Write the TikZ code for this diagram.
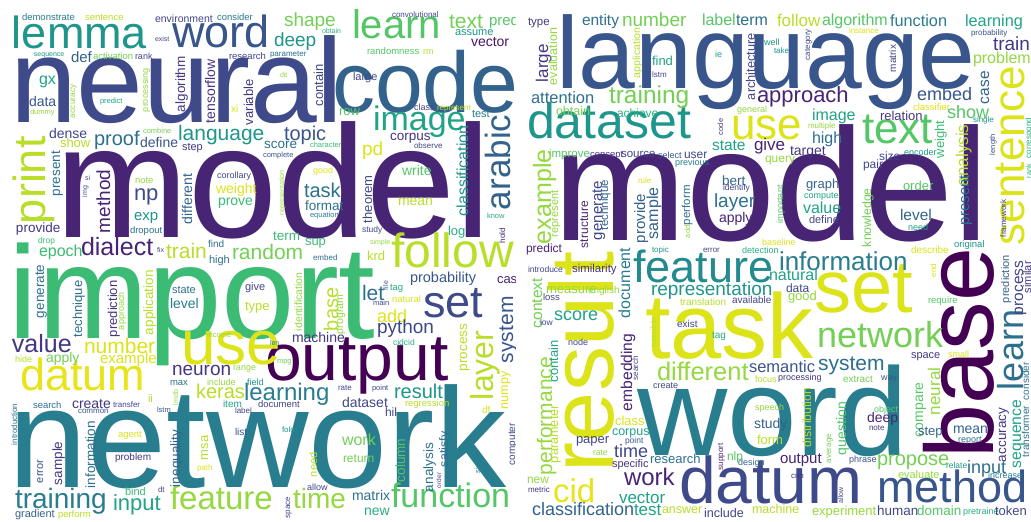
\documentclass[tikz,border=0pt]{standalone}
\usepackage{fontspec}
\setmainfont{Liberation Sans}
\definecolor{v00}{HTML}{440154}
\definecolor{v01}{HTML}{481567}
\definecolor{v02}{HTML}{482475}
\definecolor{v03}{HTML}{453781}
\definecolor{v04}{HTML}{404788}
\definecolor{nb}{HTML}{3E4A89}
\definecolor{v05}{HTML}{39568C}
\definecolor{v06}{HTML}{33638D}
\definecolor{v07}{HTML}{2D708E}
\definecolor{v08}{HTML}{287D8E}
\definecolor{v09}{HTML}{238A8D}
\definecolor{v10}{HTML}{1F968B}
\definecolor{v11}{HTML}{20A387}
\definecolor{v12}{HTML}{29AF7F}
\definecolor{v13}{HTML}{3CBB75}
\definecolor{v14}{HTML}{55C667}
\definecolor{v15}{HTML}{73D055}
\definecolor{v16}{HTML}{95D840}
\definecolor{v17}{HTML}{B8DE29}
\definecolor{v18}{HTML}{DCE319}
\definecolor{v19}{HTML}{E8E419}
\newcount\wcnt
\tikzset{wd/.style={anchor=base west, inner sep=0pt, outer sep=0pt}}
\newcommand\WH[5]{\global\advance\wcnt by 1 \node[wd, text=#4, font=\fontsize{#3}{#3}\selectfont] (w\the\wcnt) at (#1,#2) {#5};}
\newcommand\WV[5]{\global\advance\wcnt by 1 \node[wd, rotate=90, text=#4, font=\fontsize{#3}{#3}\selectfont] (w\the\wcnt) at (#1,#2) {#5};}
\begin{document}
\begin{tikzpicture}[x=1pt,y=-1pt]
\fill[white] (0,0) rectangle (1031,522);
\useasboundingbox (0,0) rectangle (1031,522);
% ---------------- LEFT CLOUD ----------------
\begin{scope}
\clip (0,0) rectangle (515,522);
\WH{55}{237}{160}{v02}{model}
\WH{10}{122}{120}{nb}{neural}
\WH{9}{338}{132}{v13}{import}
\WH{9}{487}{142}{v08}{network}
\WH{332}{112}{86}{v06}{code}
\WH{265}{380}{66}{v00}{output}
\WH{181}{364}{62}{v18}{use}
\WH{20}{390}{45}{v19}{datum}
\WH{12}{48}{45}{v10}{lemma}
\WH{172}{47}{45}{v05}{word}
\WH{391}{267}{48}{v17}{follow}
\WH{423}{317}{45}{nb}{set}
\WV{45}{224}{45}{v17}{print}
\WV{510}{210}{35}{v06}{arabic}
\WV{493}{400}{32}{v17}{layer}
\WH{391}{507}{34}{v14}{function}
\WH{170}{509}{33}{v16}{feature}
\WH{15}{508}{28}{v08}{training}
\WH{293}{508}{28}{v16}{time}
\WH{113}{510}{22}{v11}{input}
\WH{352}{38}{40}{v14}{learn}
\WH{373}{130}{34}{v11}{image}
\WH{178}{140}{21}{v10}{language}
\WH{22}{20}{9.5}{v08}{demonstrate}
\WH{85}{20}{9.5}{v17}{sentence}
\WH{155}{22}{10.5}{v04}{environment}
\WH{217}{20}{9.5}{v08}{consider}
\WH{155}{41}{7}{v04}{exist}
\WH{34}{56}{7}{v10}{sequence}
\WH{71}{62}{15}{v06}{def}
\WH{93}{59}{9.5}{v15}{activation}
\WH{135}{59}{9}{v04}{rank}
\WH{229}{59}{9.5}{v04}{research}
\WH{270}{56}{8}{v07}{parameter}
\WH{280}{77}{7}{v16}{dit}
\WH{39}{84}{16}{v11}{gx}
\WH{29}{106}{14}{v05}{data}
\WH{30}{114}{7.5}{v16}{dummy}
\WV{75}{118}{8.5}{v16}{accuracy}
\WH{100}{103}{7.5}{v11}{predict}
\WV{148}{112}{9}{v16}{processing}
\WV{185}{112}{13.5}{v03}{algorithm}
\WV{215}{123}{14}{v03}{tensorflow}
\WV{253}{125}{13}{v03}{variable}
\WH{231}{112}{10}{v18}{xi}
\WH{49}{138}{14}{v04}{dense}
\WH{60}{147}{13}{v17}{show}
\WH{94}{145}{20}{v07}{proof}
\WH{143}{133}{7.5}{v15}{combine}
\WH{140}{147}{14}{v05}{define}
\WH{182}{150}{11}{v03}{step}
\WH{392}{17}{8}{v04}{convolutional}
\WH{284}{27}{19}{v15}{shape}
\WH{449}{28}{21}{v15}{text}
\WH{489}{25}{15}{v14}{pred}
\WH{322}{33}{7}{v12}{obtain}
\WH{455}{35}{11}{v10}{assume}
\WH{274}{46}{19}{v10}{deep}
\WH{471}{46}{14}{v01}{vector}
\WH{367}{54}{9.5}{v14}{randomness}
\WH{423}{54}{9}{v17}{rm}
\WV{323}{106}{13}{v04}{contain}
\WH{353}{80}{11}{v04}{large}
\WH{339}{115}{13}{v14}{row}
\WH{414}{110}{9}{v04}{class}
\WH{437}{110}{8}{v17}{represent}
\WH{472}{117}{11}{v08}{test}
\WH{284}{140}{20}{v05}{topic}
\WH{390}{140}{13.5}{v03}{corpus}
\WH{264}{148}{13.5}{v07}{score}
\WH{310}{147}{7.5}{v13}{character}
\WH{414}{148}{8}{v04}{observe}
\WH{263}{157}{7.5}{v05}{complete}
\WH{362}{155}{19}{v18}{pd}
\WV{468}{216}{16}{v10}{classification}
\WH{313}{173}{9}{v18}{good}
\WH{402}{175}{14}{v14}{write}
\WV{60}{196}{13.5}{v07}{present}
\WH{85}{180}{7}{v04}{si}
\WV{87}{197}{7}{v05}{img}
\WV{110}{233}{19}{v02}{method}
\WH{135}{183}{9.5}{v16}{note}
\WH{134}{200}{22}{nb}{np}
\WV{192}{224}{14}{v06}{different}
\WH{217}{178}{9}{v04}{corollary}
\WH{216}{193}{14}{v18}{weight}
\WH{218}{205}{14}{v13}{prove}
\WH{134}{220}{15}{v10}{exp}
\WH{16}{232}{13.5}{v03}{provide}
\WH{130}{233}{9.5}{v07}{dropout}
\WH{38}{243}{8.5}{v13}{drop}
\WH{39}{256}{16}{v13}{epoch}
\WH{81}{255}{25}{v02}{dialect}
\WH{157}{252}{7}{v04}{fix}
\WH{166}{258}{21}{v17}{train}
\WH{208}{247}{10}{v07}{find}
\WH{209}{263}{11}{v07}{high}
\WH{232}{259}{21}{v15}{random}
\WV{44}{318}{13.5}{v07}{generate}
\WV{82}{337}{13}{v07}{technique}
\WV{117}{337}{13}{v03}{prediction}
\WV{124}{330}{9}{v16}{approach}
\WV{153}{335}{13.5}{v17}{application}
\WH{172}{293}{11}{v07}{state}
\WH{170}{308}{14}{v08}{level}
\WH{245}{290}{11}{v04}{give}
\WH{245}{310}{13}{v17}{type}
\WH{207}{337}{7.5}{v16}{income}
\WH{12}{352}{25}{v03}{value}
\WH{84}{353}{21}{v18}{number}
\WH{304}{197}{20}{v07}{task}
\WH{305}{210}{13.5}{v07}{format}
\WH{310}{217}{7.5}{v08}{equation}
\WV{284}{215}{7}{v16}{representation}
\WV{372}{223}{13}{v04}{theorem}
\WH{362}{232}{8.5}{v04}{study}
\WH{398}{205}{14}{v17}{mean}
\WH{448}{235}{13}{v12}{log}
\WH{487}{218}{7.5}{v12}{know}
\WV{505}{243}{8}{v02}{hold}
\WH{273}{240}{13.5}{v13}{term}
\WH{305}{245}{13}{v13}{sup}
\WH{370}{244}{7}{v16}{simple}
\WH{313}{260}{8}{v07}{embed}
\WH{367}{260}{13}{v17}{krd}
\WV{388}{290}{7}{v05}{file}
\WH{410}{282}{14.5}{v05}{probability}
\WH{497}{283}{13}{v02}{case}
\WH{362}{300}{21}{v07}{let}
\WH{390}{290}{9.5}{v12}{tag}
\WH{392}{302}{9.5}{v18}{natural}
\WH{373}{305}{7.5}{v04}{main}
\WH{377}{322}{18}{v18}{add}
\WH{377}{333}{19}{v04}{python}
\WH{393}{345}{8.5}{v12}{cidcid}
\WV{338}{331}{20}{v17}{base}
\WV{343}{334}{10.5}{v16}{program}
\WV{302}{331}{10.5}{v16}{identification}
\WH{292}{342}{14}{v03}{machine}
\WH{270}{345}{7}{v08}{len}
\WV{513}{363}{21}{v05}{system}
\WV{467}{371}{13.5}{v17}{process}
\WV{508}{409}{12.5}{v18}{numpy}
\WH{482}{413}{10}{v18}{df}
\WV{515}{465}{10}{v04}{computer}
\WV{480}{473}{7.5}{v08}{similar}
\WH{277}{363}{7.5}{v15}{mpg}
\WH{338}{390}{8}{v04}{rate}
\WH{372}{390}{7.5}{v04}{point}
\WH{394}{398}{20}{v10}{result}
\WH{244}{400}{24}{v08}{learning}
\WH{196}{398}{20}{v17}{keras}
\WH{342}{407}{14}{v04}{dataset}
\WH{405}{406}{9.5}{v17}{regression}
\WH{258}{407}{9.5}{v04}{document}
\WH{385}{416}{12}{v04}{hil}
\WH{282}{432}{8}{v10}{fold}
\WH{342}{445}{16}{v15}{work}
\WH{343}{462}{12}{v15}{return}
\WV{317}{477}{11}{v17}{need}
\WH{307}{490}{9}{v04}{allow}
\WV{405}{482}{13.5}{v14}{column}
\WV{433}{492}{13.5}{v07}{analysis}
\WV{448}{467}{12.5}{v07}{satisfy}
\WV{441}{488}{6.5}{v04}{order}
\WH{352}{500}{14}{v07}{matrix}
\WH{364}{515}{14}{v12}{new}
\WV{290}{518}{8}{v04}{space}
\WH{15}{517}{11}{v06}{gradient}
\WH{58}{517}{9.5}{v17}{perform}
\WH{125}{495}{11}{v13}{bind}
\WH{158}{492}{8}{v04}{dt}
\WV{43}{483}{11}{v05}{error}
\WV{62}{485}{13.5}{v03}{sample}
\WV{95}{488}{13.5}{v07}{information}
\WV{180}{487}{13.5}{v06}{inequality}
\WV{208}{460}{13}{v17}{msa}
\WH{115}{460}{10}{v03}{problem}
\WH{118}{437}{9.5}{v18}{agent}
\WH{197}{470}{8}{v18}{path}
\WH{235}{435}{10}{v05}{list}
\WH{235}{413}{8}{v04}{label}
\WH{223}{407}{10}{v11}{item}
\WH{113}{407}{8}{v04}{transfer}
\WH{157}{412}{7.5}{v05}{lstm}
\WV{178}{405}{7}{v16}{imdb}
\WH{72}{408}{14}{v03}{create}
\WH{78}{413}{8}{v05}{common}
\WH{33}{408}{9.5}{v07}{search}
\WV{17}{445}{8}{v07}{introduction}
\WH{148}{402}{11}{v17}{ii}
\WH{170}{385}{9.5}{v07}{max}
\WH{207}{385}{9}{v16}{include}
\WH{233}{370}{9}{v16}{range}
\WH{172}{375}{19}{v03}{neuron}
\WH{100}{363}{15}{v18}{example}
\WH{46}{362}{14}{v15}{apply}
\WH{15}{362}{9}{v17}{hide}
\WH{247}{385}{9}{v10}{field}
\end{scope}
% ---------------- RIGHT CLOUD ----------------
\begin{scope}
\clip (515,0) rectangle (1031,522);
\WH{556}{88}{102}{v05}{language}
\WH{553}{240}{160}{v02}{model}
\WV{613}{472}{90}{v18}{result}
\WH{645}{358}{92}{v18}{task}
\WH{637}{455}{125}{v08}{word}
\WV{993}{458}{97}{v00}{base}
\WH{814}{312}{74}{v18}{set}
\WH{679}{503}{66}{nb}{datum}
\WH{527}{138}{50}{v10}{dataset}
\WH{731}{139}{44}{v18}{use}
\WH{633}{282}{45}{v09}{feature}
\WH{862}{143}{44}{v14}{text}
\WV{1024}{245}{44}{v18}{sentence}
\WH{877}{502}{45}{v05}{method}
\WH{817}{347}{36}{v15}{network}
\WV{1023}{390}{36}{v07}{learn}
\WH{779}{270}{26}{v08}{information}
\WH{553}{502}{33}{v19}{cid}
\WH{528}{25}{11.5}{v03}{type}
\WH{582}{25}{15.5}{v07}{entity}
\WH{622}{27}{19}{v15}{number}
\WH{702}{25}{16}{v14}{label}
\WH{736}{25}{16}{v07}{term}
\WV{548}{82}{17}{v03}{large}
\WV{557}{85}{12.5}{v16}{evaluation}
\WV{640}{78}{10.5}{v17}{application}
\WH{652}{65}{13}{v11}{find}
\WH{715}{57}{9}{v11}{ie}
\WH{652}{77}{8}{v04}{lstm}
\WV{755}{100}{12.8}{v04}{architecture}
\WH{764}{45}{9}{v10}{well}
\WH{531}{103}{16.5}{v07}{attention}
\WH{609}{103}{24.5}{v15}{training}
\WH{556}{115}{12.5}{v15}{obtain}
\WH{617}{117}{12}{v12}{achieve}
\WH{737}{112}{9}{v16}{general}
\WV{723}{135}{7.5}{v03}{code}
\WH{712}{150}{15.5}{v11}{state}
\WH{754}{150}{17}{v02}{give}
\WH{765}{162}{12}{v16}{query}
\WH{549}{157}{11.5}{v14}{improve}
\WH{590}{157}{9.5}{v03}{concept}
\WH{621}{157}{11.5}{v04}{source}
\WH{658}{158}{9}{v05}{select}
\WH{684}{158}{12}{v04}{user}
\WH{675}{165}{9}{v08}{previous}
\WV{551}{244}{25}{v16}{example}
\WH{777}{27}{17}{v17}{follow}
\WH{822}{25}{16}{v14}{algorithm}
\WH{890}{27}{16.3}{v08}{function}
\WH{965}{27}{16.3}{v11}{learning}
\WH{849}{33}{8}{v18}{instance}
\WH{971}{35}{8}{v05}{probability}
\WV{810}{60}{8}{v04}{category}
\WH{774}{53}{8}{v10}{take}
\WV{896}{72}{10}{v04}{matrix}
\WH{993}{50}{19}{v03}{train}
\WH{973}{63}{16}{v16}{problem}
\WH{757}{102}{22}{v02}{approach}
\WH{917}{100}{18}{v05}{embed}
\WV{989}{104}{15.5}{v06}{case}
\WH{913}{110}{9.5}{v18}{classifier}
\WH{947}{118}{18}{v14}{show}
\WH{812}{120}{16}{v11}{image}
\WH{808}{128}{8}{v16}{multiple}
\WH{880}{120}{13}{v03}{relation}
\WH{973}{122}{8}{v10}{single}
\WH{812}{143}{16}{v07}{high}
\WH{790}{155}{14}{v03}{target}
\WV{944}{158}{13}{v13}{weight}
\WV{968}{186}{17}{v17}{analysis}
\WV{995}{155}{7.5}{v04}{length}
\WV{1031}{158}{8}{v12}{correspond}
\WV{1031}{178}{7}{v12}{rank}
\WH{879}{160}{12}{v04}{size}
\WH{904}{155}{9}{v10}{encoder}
\WH{863}{168}{12}{v04}{pair}
\WV{558}{237}{11}{v16}{represent}
\WH{526}{252}{12}{v02}{predict}
\WV{588}{248}{12}{v02}{structure}
\WV{602}{240}{15}{v04}{generate}
\WV{608}{230}{11.5}{v06}{technique}
\WV{645}{243}{15}{v06}{provide}
\WV{658}{239}{16}{v06}{sample}
\WH{638}{183}{8}{v18}{rule}
\WV{690}{225}{11.5}{v07}{perform}
\WV{690}{238}{7.5}{v16}{add}
\WH{722}{185}{13.5}{v06}{bert}
\WH{723}{190}{8.5}{v04}{identify}
\WH{714}{207}{19}{v07}{layer}
\WH{719}{222}{14}{v02}{apply}
\WH{652}{252}{8}{v10}{topic}
\WH{703}{252}{8}{v04}{error}
\WH{742}{253}{9}{v12}{detection}
\WH{762}{245}{9}{v18}{baseline}
\WH{528}{272}{8.5}{v04}{introduce}
\WH{572}{272}{11.5}{v03}{similarity}
\WV{542}{328}{15.5}{v15}{context}
\WH{546}{293}{13}{v16}{measure}
\WH{588}{293}{10}{v16}{english}
\WH{543}{300}{9.5}{v04}{loss}
\WV{630}{318}{16}{v08}{document}
\WH{651}{295}{19}{v10}{representation}
\WH{680}{305}{10}{v17}{translation}
\WH{732}{303}{10}{v04}{available}
\WH{554}{320}{18}{v11}{score}
\WH{540}{325}{8.5}{v04}{low}
\WV{656}{347}{8}{v17}{possible}
\WH{677}{327}{10}{v04}{exist}
\WH{712}{338}{10}{v12}{tag}
\WH{568}{345}{9}{v04}{node}
\WV{632}{411}{15.6}{v02}{embedding}
\WH{769}{280}{16}{v11}{natural}
\WH{786}{292}{12}{v04}{data}
\WH{788}{300}{13}{v16}{good}
\WH{928}{303}{9.5}{v14}{require}
\WV{936}{277}{8}{v18}{end}
\WH{911}{253}{10}{v18}{describe}
\WH{954}{247}{9.5}{v10}{original}
\WV{1009}{303}{11}{v06}{prediction}
\WV{1023}{315}{15.5}{v04}{process}
\WV{1031}{293}{11}{v03}{similar}
\WV{1006}{237}{8}{v04}{framework}
\WH{903}{190}{13}{v14}{order}
\WH{806}{188}{13}{v06}{graph}
\WH{804}{198}{9}{v11}{compute}
\WH{803}{213}{16}{v11}{value}
\WH{809}{223}{11}{v04}{define}
\WV{783}{223}{9}{v14}{important}
\WV{871}{247}{12.3}{v15}{knowledge}
\WH{900}{220}{15.5}{v06}{level}
\WH{908}{230}{9}{v11}{need}
\WV{969}{225}{15}{v07}{present}
\WV{552}{475}{21}{v16}{performance}
\WV{558}{382}{13}{v11}{contain}
\WV{558}{463}{12.7}{v17}{parameter}
\WH{657}{380}{25.5}{v16}{different}
\WH{749}{372}{16.5}{v05}{semantic}
\WH{755}{382}{9}{v17}{focus}
\WV{638}{380}{8}{v04}{search}
\WH{653}{388}{9}{v04}{create}
\WH{615}{425}{13}{v18}{class}
\WH{612}{435}{12.5}{v11}{corpus}
\WH{576}{443}{13}{v04}{paper}
\WH{625}{443}{8.5}{v05}{point}
\WH{593}{455}{8.5}{v16}{rate}
\WH{614}{457}{18}{v04}{time}
\WH{612}{467}{11}{v03}{specific}
\WH{650}{463}{13}{v07}{research}
\WV{723}{470}{8}{v02}{support}
\WH{727}{460}{12}{v14}{nlp}
\WH{738}{465}{9}{v06}{design}
\WH{755}{410}{9}{v16}{speech}
\WH{754}{428}{14}{v06}{study}
\WH{757}{444}{13}{v17}{form}
\WH{624}{485}{24}{v02}{work}
\WH{527}{483}{12}{v16}{new}
\WH{528}{492}{8}{v03}{metric}
\WH{619}{503}{17}{v11}{vector}
\WH{532}{515}{18}{v06}{classification}
\WH{634}{515}{17}{v11}{test}
\WH{662}{513}{12.5}{v17}{answer}
\WH{704}{517}{12.6}{v04}{include}
\WH{752}{513}{12.5}{v17}{machine}
\WH{911}{358}{11}{v03}{space}
\WH{948}{357}{9}{v18}{small}
\WH{818}{370}{21}{v07}{system}
\WH{778}{380}{9}{v03}{processing}
\WH{843}{382}{10}{v15}{extract}
\WH{881}{380}{9}{v05}{way}
\WV{940}{415}{17}{v16}{neural}
\WV{923}{437}{14}{v14}{compare}
\WH{874}{412}{9}{v14}{object}
\WH{867}{422}{14}{v02}{deep}
\WH{869}{430}{8}{v03}{note}
\WV{811}{447}{12.2}{v17}{distribution}
\WV{846}{455}{14}{v14}{question}
\WV{831}{463}{8}{v15}{average}
\WH{918}{435}{13}{v06}{step}
\WH{953}{433}{14}{v06}{mean}
\WH{958}{442}{9}{v07}{report}
\WV{1006}{462}{13.5}{v03}{accuracy}
\WV{1021}{468}{15.7}{v11}{sequence}
\WV{1029}{457}{10}{v07}{transformer}
\WV{1029}{400}{10}{v07}{consider}
\WH{780}{463}{15}{v02}{output}
\WH{849}{462}{9}{v05}{phrase}
\WH{877}{465}{20}{v15}{propose}
\WH{946}{468}{8.5}{v10}{relate}
\WH{967}{473}{18}{v07}{input}
\WH{898}{478}{11}{v16}{evaluate}
\WH{988}{478}{9}{v08}{increase}
\WH{791}{478}{8}{v03}{cnn}
\WV{843}{503}{7}{v04}{allow}
\WH{812}{515}{13}{v16}{experiment}
\WH{877}{515}{13.5}{v04}{human}
\WH{917}{515}{13.5}{v14}{domain}
\WH{963}{514}{9}{v12}{pretraine}
\WH{995}{515}{13}{v04}{token}
\end{scope}
\end{tikzpicture}
\end{document}
